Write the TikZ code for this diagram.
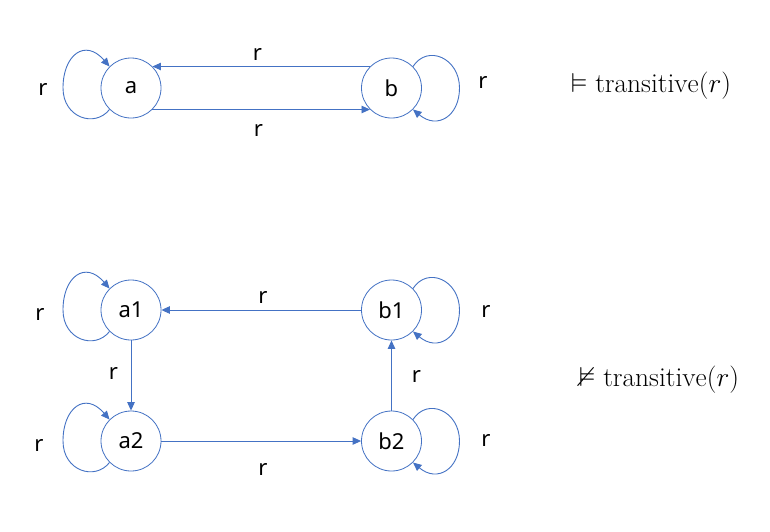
\documentclass[tikz,border=0pt]{standalone}
\usepackage{graphicx}
\usepackage{amssymb}
\usepackage{fontspec}
\newfontfamily\labfont{Noto Sans}
\usetikzlibrary{arrows.meta}
\definecolor{edgeblue}{HTML}{4472C4}
\newcommand\myleftloop[1]{\draw[arr] (#1.-135) .. controls ([shift={(-36,40)}]#1.center) and ([shift={(-68,30)}]#1.center) .. ([shift={(-68,0)}]#1.center) .. controls ([shift={(-68,-33)}]#1.center) and ([shift={(-46,-50)}]#1.center) .. (#1.135);}
\newcommand\myrightloop[1]{\draw[arr] (#1.45) .. controls ([shift={(36,-44)}]#1.center) and ([shift={(68,-30)}]#1.center) .. ([shift={(68,0)}]#1.center) .. controls ([shift={(68,28)}]#1.center) and ([shift={(46,42)}]#1.center) .. (#1.-45);}
\newcommand\mymath[1]{\scalebox{1.32}{\fontsize{20.74}{25}\selectfont$#1$}}
\begin{document}
\begin{tikzpicture}[x=1pt,y=-1pt,
  state/.style={circle, draw=edgeblue, line width=0.8pt, minimum size=60pt, inner sep=0pt, font=\labfont\fontsize{22}{26}\selectfont},
  lab/.style={font=\labfont\fontsize{22}{26}\selectfont, inner sep=0pt},
  arr/.style={draw=edgeblue, line width=0.9pt, -{Triangle[length=8.5pt,width=7.5pt]}},
  mathlab/.style={inner sep=0pt}]
\fill[white] (0,0) rectangle (770,531);
\path[use as bounding box] (0,0) rectangle (770,531);
% top model
\node[state] (a) at (131,88) {a};
\node[state] (b) at (391.5,88) {b};
\draw[arr] (b.135) -- (a.45);
\draw[arr] (a.-45) -- (b.-135);
\myleftloop{a}
\myrightloop{b}
\node[lab] (ab1) at (257.5,54) {r};
\node[lab] (ab2) at (258.5,130) {r};
\node[lab] (la) at (43,89) {r};
\node[lab] (lb) at (483,82.5) {r};
\node[mathlab] (t1) at (651,85.5) {\mymath{\vDash \mathrm{transitive}(r)}};
% bottom model
\node[state] (a1) at (131,310) {a1};
\node[state] (b1) at (391.5,310) {b1};
\node[state] (a2) at (131,441) {a2};
\node[state] (b2) at (391.5,441) {b2};
\draw[arr] (b1) -- (a1);
\draw[arr] (a1) -- (a2);
\draw[arr] (a2) -- (b2);
\draw[arr] (b2) -- (b1);
\myleftloop{a1}
\myleftloop{a2}
\myrightloop{b1}
\myrightloop{b2}
\node[lab] (l1) at (263,297) {r};
\node[lab] (l2) at (263,469.5) {r};
\node[lab] (l3) at (113.5,373.5) {r};
\node[lab] (l4) at (416.5,376.5) {r};
\node[lab] (l5) at (40,314.5) {r};
\node[lab] (l6) at (39,445.5) {r};
\node[lab] (l7) at (486,311.5) {r};
\node[lab] (l8) at (486,440.5) {r};
\node[mathlab] (t2) at (659,379.5) {\mymath{\nvDash \mathrm{transitive}(r)}};
\end{tikzpicture}
\end{document}
